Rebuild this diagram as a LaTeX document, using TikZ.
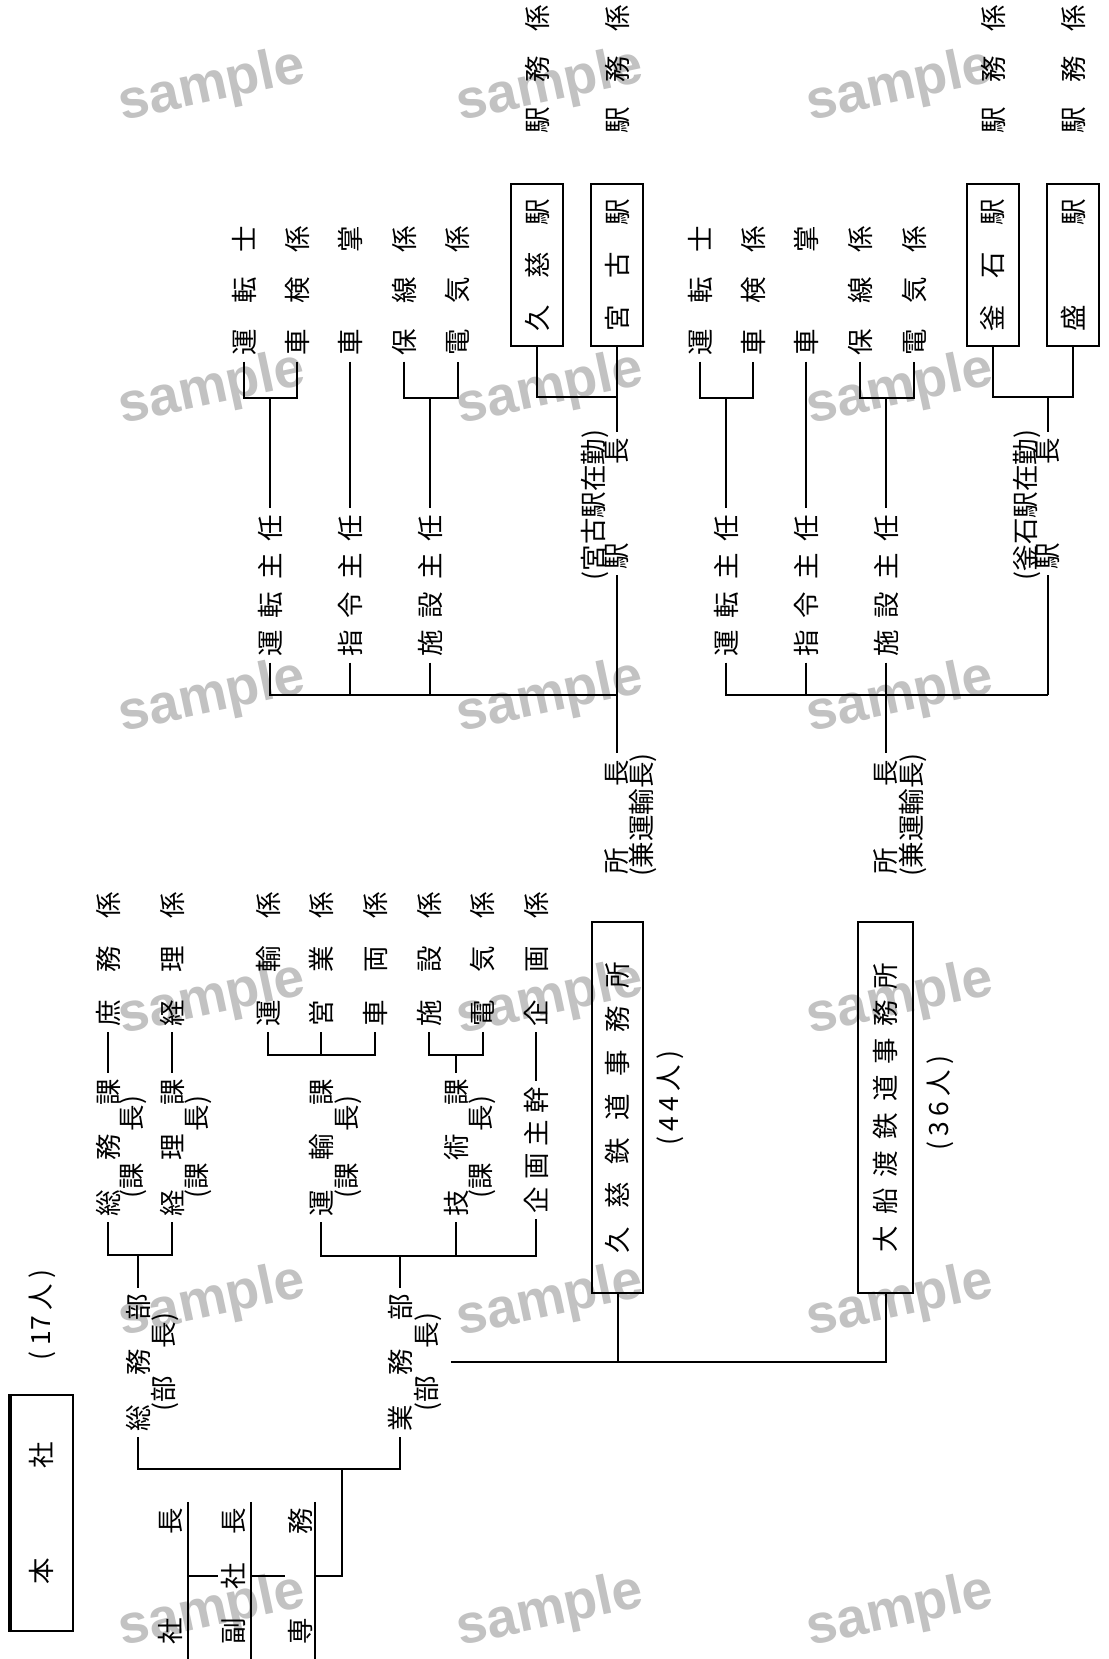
\documentclass[tikz,border=0pt]{standalone}
\usepackage{fontspec}
\newfontfamily\jpfont{Noto Sans CJK JP}
\newfontfamily\markfont{Liberation Sans}
\newcommand{\spread}[2]{\makebox[#1pt][s]{#2}}
\tikzset{
  orgtext/.style = {rotate=90, inner xsep=6pt, inner ysep=3pt,
                    font=\jpfont\fontsize{26.5}{30}\selectfont},
  stbox/.style   = {orgtext, draw, line width=1.9pt, inner sep=0pt,
                    minimum width=162pt, minimum height=52pt},
  offbox/.style  = {stbox, minimum width=371pt},
  honbox/.style  = {stbox, line width=2.4pt, minimum width=236pt, minimum height=64pt},
  conn/.style    = {line width=2pt},
  wmark/.style   = {rotate=12, text=black!24,
                    font=\markfont\bfseries\fontsize{55}{60}\selectfont},
}
\newcommand{\fieldgroup}[4]{%
  \begin{scope}[shift={(#2,0)}]
    \node[orgtext] (#1untenshi) at (244,290.5) {\spread{130}{運 転 士}};
    \node[orgtext] (#1shaken)   at (297,290.5) {\spread{130}{車 検 係}};
    \node[orgtext] (#1shasho)   at (350,290.5) {\spread{130}{車 掌}};
    \node[orgtext] (#1hosen)    at (404,290.5) {\spread{130}{保 線 係}};
    \node[orgtext] (#1denki)    at (458,290.5) {\spread{130}{電 気 係}};
    \node[orgtext] (#1unten)    at (270,585.5) {\spread{142}{運 転 主 任}};
    \node[orgtext] (#1shirei)   at (350,585.5) {\spread{142}{指 令 主 任}};
    \node[orgtext] (#1shisetsu) at (430,585.5) {\spread{142}{施 設 主 任}};
    \coordinate (#1jun) at (270,398);
    \coordinate (#1jho) at (430,398);
    \draw[conn] (#1untenshi.west) |- (#1jun) -| (#1shaken.west);
    \draw[conn] (#1jun) -- (#1unten.east);
    \draw[conn] (#1shasho.west) -- (#1shirei.east);
    \draw[conn] (#1hosen.west) |- (#1jho) -| (#1denki.west);
    \draw[conn] (#1jho) -- (#1shisetsu.east);
    \node[stbox] (#1sta) at (537,265) {\spread{133}{#3}};
    \node[stbox] (#1stb) at (617,265) {\spread{133}{#4}};
    \node[orgtext] (#1ekimua) at (537,69) {\spread{128}{駅 務 係}};
    \node[orgtext] (#1ekimub) at (617,69) {\spread{128}{駅 務 係}};
  \end{scope}
}
\begin{document}
\begin{tikzpicture}[x=1pt,y=-1pt]
  \path[use as bounding box, fill=white] (0,0) rectangle (1108,1659);
  \coordinate (bottomedge) at (0,1659);

  \foreach \wx in {212,550,900}{
    \foreach \wy in {87,390,698,1000,1302,1612}{
      \node[wmark] (wm\wx-\wy) at (\wx,\wy) {sample};
    }
  }

  % head office
  \node[honbox] (honsha) at (41,1513) {\spread{143}{本 社}};
  \draw[line width=1.4pt] ([xshift=3pt]honsha.north west) -- ([xshift=3pt]honsha.north east);
  \node[orgtext] (honshastaff) at (42,1315) {\spread{90}{( 17 人 )}};
  \node[orgtext] (shacho)     at (170,1576) {\spread{136}{社 長}};
  \node[orgtext] (fukushacho) at (233,1576) {\spread{136}{副 社 長}};
  \node[orgtext] (senmu)      at (300,1576) {\spread{136}{専 務}};
  \draw[conn] ([xshift=18pt]shacho.east) -- ([xshift=18pt]shacho.east |- bottomedge);
  \draw[conn] ([xshift=18pt]fukushacho.east) -- ([xshift=18pt]fukushacho.east |- bottomedge);
  \draw[conn] ([xshift=15pt]senmu.east) -- ([xshift=15pt]senmu.east |- bottomedge);
  \draw[conn] ([xshift=18pt]shacho.center) -- (fukushacho.north);
  \draw[conn] ([xshift=18pt]fukushacho.center) -- (senmu.north);
  \coordinate (jhq) at (342,1469);
  \draw[conn] ([xshift=15pt]senmu.center) -| (jhq);

  \node[orgtext] (soumubu)    at (138,1362.5) {\spread{137}{総 務 部}};
  \node[orgtext] (soumubucho) at (165,1362)   {\spread{98}{(部 長)}};
  \node[orgtext] (gyomubu)    at (400,1362.5) {\spread{137}{業 務 部}};
  \node[orgtext] (gyomubucho) at (428,1362)   {\spread{98}{(部 長)}};
  \draw[conn] (soumubu.west) |- (jhq) -| (gyomubu.west);

  % sections
  \node[orgtext] (soumuka)      at (108,1147.5) {\spread{137}{総 務 課}};
  \node[orgtext] (soumukacho)   at (133,1147)   {\spread{102}{(課 長)}};
  \node[orgtext] (keirika)      at (172,1147.5) {\spread{137}{経 理 課}};
  \node[orgtext] (keirikacho)   at (198,1147)   {\spread{102}{(課 長)}};
  \node[orgtext] (unyuka)       at (321,1147.5) {\spread{137}{運 輸 課}};
  \node[orgtext] (unyukacho)    at (348,1147)   {\spread{102}{(課 長)}};
  \node[orgtext] (gijutsuka)    at (456,1147.5) {\spread{137}{技 術 課}};
  \node[orgtext] (gijutsukacho) at (482,1147)   {\spread{102}{(課 長)}};
  \node[orgtext] (kikaku)       at (536,1150)   {\spread{126}{企 画 主 幹}};
  \coordinate (jsoumu) at (138,1255);
  \coordinate (jgyomu) at (400,1256);
  \draw[conn] (soumuka.west) |- (jsoumu) -| (keirika.west);
  \draw[conn] (jsoumu) -- (soumubu.east);
  \draw[conn] (unyuka.west) |- (jgyomu) -| (kikaku.west);
  \draw[conn] (gijutsuka.west) -- (gijutsuka.west |- jgyomu);
  \draw[conn] (jgyomu) -- (gyomubu.east);

  \node[orgtext] (shomugk)    at (108,959) {\spread{134}{庶 務 係}};
  \node[orgtext] (keirigk)    at (172,959) {\spread{134}{経 理 係}};
  \node[orgtext] (unyugk)     at (268,959) {\spread{134}{運 輸 係}};
  \node[orgtext] (eigyogk)    at (321,959) {\spread{134}{営 業 係}};
  \node[orgtext] (sharyogk)   at (375,959) {\spread{134}{車 両 係}};
  \node[orgtext] (shisetsugk) at (429,959) {\spread{134}{施 設 係}};
  \node[orgtext] (denkigk)    at (483,959) {\spread{134}{電 気 係}};
  \node[orgtext] (kikakugk)   at (536,959) {\spread{134}{企 画 係}};
  \coordinate (junyu) at (321,1055);
  \coordinate (jgiju) at (456,1055);
  \draw[conn] (shomugk.west) -- (soumuka.east);
  \draw[conn] (keirigk.west) -- (keirika.east);
  \draw[conn] (unyugk.west) |- (junyu) -| (sharyogk.west);
  \draw[conn] (eigyogk.west) -- (junyu);
  \draw[conn] (shisetsugk.west) |- (jgiju) -| (denkigk.west);
  \draw[conn] (jgiju) -- (gijutsuka.east);
  \draw[conn] (kikakugk.west) -- (kikaku.east);

  % railway offices
  \node[offbox, minimum height=51pt] (kujioffice)  at (617.5,1107.5) {\spread{291}{久 慈 鉄 道 事 務 所}};
  \node[orgtext] (kujistaff) at (670,1098) {\spread{95}{( 4 4 人 )}};
  \node[offbox, minimum height=55pt] (ofunaoffice) at (885.5,1107.5) {\spread{290}{大 船 渡 鉄 道 事 務 所}};
  \node[orgtext] (ofunastaff) at (940,1103) {\spread{95}{( 3 6 人 )}};
  \coordinate (joffice) at ([xshift=6pt]gyomubucho.south);
  \draw[conn] (joffice) -| (ofunaoffice.west);
  \draw[conn] (kujioffice.west) -- (kujioffice.west |- joffice);

  % Kuji line
  \fieldgroup{K}{0}{久 慈 駅}{宮 古 駅}
  \node[orgtext] (Kzaikin) at (595,505)   {(宮古駅在勤)};
  \node[orgtext] (Kekicho) at (617,503.5) {\spread{131}{駅 長}};
  \node[orgtext] (Kshocho) at (617,817)   {\spread{115}{所 長}};
  \node[orgtext] (Kkenmu)  at (643,815)   {(兼運輸長)};
  \coordinate (Keki) at (617,397);
  \coordinate (Kbus) at (617,695);
  \draw[conn] (Ksta.west) |- (Keki);
  \draw[conn] (Kstb.west) -- (Kekicho.east);
  \draw[conn] (Kunten.west) |- (Kbus);
  \draw[conn] (Kshirei.west) -- (Kshirei.west |- Kbus);
  \draw[conn] (Kshisetsu.west) -- (Kshisetsu.west |- Kbus);
  \draw[conn] (Kekicho.west) -- (Kshocho.east);

  % Ofunato line
  \fieldgroup{O}{456}{釜 石 駅}{盛 駅}
  \node[orgtext] (Ozaikin) at (1027,505)   {(釜石駅在勤)};
  \node[orgtext] (Oekicho) at (1048,503.5) {\spread{131}{駅 長}};
  \node[orgtext] (Oshocho) at (886,817)    {\spread{115}{所 長}};
  \node[orgtext] (Okenmu)  at (913,815)    {(兼運輸長)};
  \coordinate (Oeki) at (1048,397);
  \coordinate (Obus) at (1048,695);
  \draw[conn] (Osta.west) |- (Oeki) -| (Ostb.west);
  \draw[conn] (Oeki) -- (Oekicho.east);
  \draw[conn] (Ounten.west) |- (Obus);
  \draw[conn] (Oshirei.west) -- (Oshirei.west |- Obus);
  \draw[conn] (Oshisetsu.west) -- (Oshocho.east);
  \draw[conn] (Oekicho.west) -- (Obus);
\end{tikzpicture}
\end{document}
